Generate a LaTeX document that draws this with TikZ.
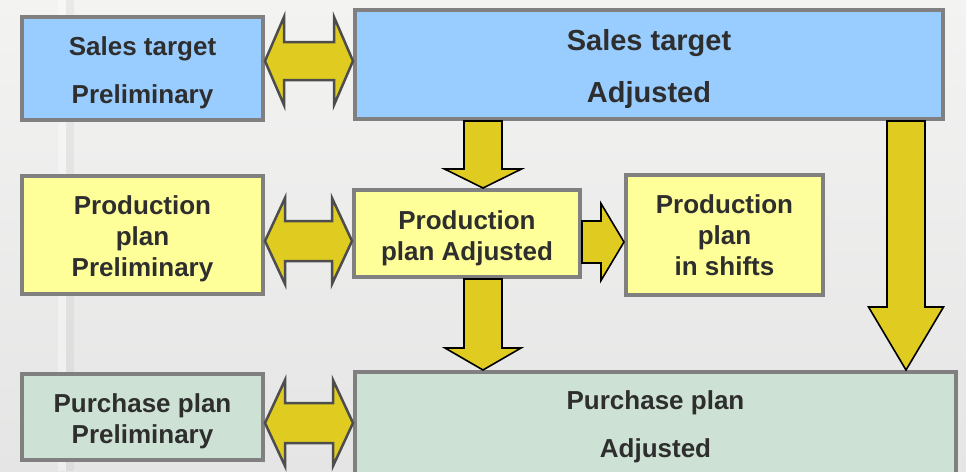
\documentclass[tikz,border=0pt]{standalone}
\usepackage{fontspec}
\setmainfont{Liberation Sans}
\usetikzlibrary{calc}
\definecolor{bgtop}{HTML}{F3F3F2}
\definecolor{bgbot}{HTML}{E5E5E5}
\definecolor{boxblue}{HTML}{99CCFF}
\definecolor{boxyel}{HTML}{FFFF99}
\definecolor{boxgrn}{HTML}{CDE2D4}
\definecolor{boxline}{HTML}{808080}
\definecolor{arrfill}{HTML}{E0CB20}
\definecolor{dblline}{HTML}{4D4D4D}
\definecolor{txt}{HTML}{2E2E2E}
\tikzset{
 box/.style={draw=boxline, line width=4pt, inner sep=0pt},
 lbl/.style={inner sep=0pt, align=center, text=txt, font=\fontsize{26}{31}\selectfont\bfseries},
 dblarr/.style={fill=arrfill, draw=dblline, line width=2.5pt, line join=miter},
 sarr/.style={fill=arrfill, draw=black, line width=1.6pt, line join=miter},
}
% horizontal double block arrow: #1 left tip, #2 right tip, #3 shaft half, #4 head half, #5 head length
\newcommand\blockdbl[5]{%
 \path[dblarr] let \p1=#1, \p2=#2 in
  (\x1,\y1) -- (\x1+#5,\y1+#4) -- (\x1+#5,\y1+#3) -- (\x2-#5,\y1+#3) -- (\x2-#5,\y1+#4)
  -- (\x2,\y1) -- (\x2-#5,\y1-#4) -- (\x2-#5,\y1-#3) -- (\x1+#5,\y1-#3) -- (\x1+#5,\y1-#4) -- cycle;}
% downward block arrow: #1 start, #2 tip
\newcommand\blockdown[5]{%
 \path[sarr] let \p1=#1, \p2=#2 in
  (\x2-#3,\y1) -- (\x2+#3,\y1) -- (\x2+#3,\y2+#5) -- (\x2+#4,\y2+#5) -- (\x2,\y2)
  -- (\x2-#4,\y2+#5) -- (\x2-#3,\y2+#5) -- cycle;}
% rightward block arrow: #1 start, #2 tip
\newcommand\blockright[5]{%
 \path[sarr] let \p1=#1, \p2=#2 in
  (\x1,\y2+#3) -- (\x2-#5,\y2+#3) -- (\x2-#5,\y2+#4) -- (\x2,\y2) -- (\x2-#5,\y2-#4)
  -- (\x2-#5,\y2-#3) -- (\x1,\y2-#3) -- cycle;}
\begin{document}
\begin{tikzpicture}[x=1pt,y=-1pt]
\useasboundingbox (0,0) rectangle (966,471);
\clip (0,0) rectangle (966,471);
\shade[top color=bgtop, bottom color=bgbot] (0,0) rectangle (966,471);
\fill[white, opacity=0.35] (58,0) rectangle (66,471);
\fill[black, opacity=0.04] (66,0) rectangle (74,471);

% boxes
\node[box, fill=boxblue, minimum width=241pt, minimum height=103pt] (sp) at (142.5,68.5) {};
\node[box, fill=boxblue, minimum width=588pt, minimum height=109pt] (sa) at (649,64.5) {};
\node[box, fill=boxyel, minimum width=241pt, minimum height=118pt] (pp) at (142.5,235) {};
\node[box, fill=boxyel, minimum width=226pt, minimum height=87pt] (pa) at (467,233.5) {};
\node[box, fill=boxyel, minimum width=197pt, minimum height=120pt] (ps) at (724.5,235) {};
\node[box, fill=boxgrn, minimum width=241pt, minimum height=86pt] (pu) at (142.5,417) {};
\node[box, fill=boxgrn, minimum width=601pt, minimum height=106pt] (pua) at (655.5,425) {};

% texts
\node[lbl] (spt) at ($(sp.center)+(0,4)$) {Sales target\\[17pt]Preliminary};
\node[lbl, font=\fontsize{29}{35}\selectfont\bfseries] (sat) at ($(sa.center)+(0,5)$)
  {Sales target\\[17pt]Adjusted};
\node[lbl] (ppt) at ($(pp.center)+(0,4)$) {Production\\plan\\Preliminary};
\node[lbl] (pat) at ($(pa.center)+(0,4.5)$) {Production\\plan Adjusted};
\node[lbl] (pst) at ($(ps.center)+(0,0.5)$) {Production\\plan\\in shifts};
\node[lbl] (put) at ($(pu.center)+(0,4.5)$) {Purchase plan\\Preliminary};
\node[lbl] (puat) at ($(pua.center)+(0,2)$) {Purchase plan\\[17pt]Adjusted};

% helper coordinates
\coordinate (ya) at (0,61);
\coordinate (yb) at (0,241);
\coordinate (yc) at (0,423);
\coordinate (yd) at (0,242);
\coordinate (xa) at (483,0);
\coordinate (xc) at (906,0);

% double arrows
\blockdbl{(sp.east |- ya)}{(sa.west |- ya)}{19pt}{44pt}{19pt}
\blockdbl{(pp.east |- yb)}{(pa.west |- yb)}{20pt}{43pt}{20pt}
\blockdbl{(pu.east |- yc)}{(pua.west |- yc)}{20pt}{43pt}{20pt}

% single arrows
\blockdown{(xa |- sa.south)}{(xa |- pa.north)}{19pt}{38.5pt}{19pt}
\blockdown{(xa |- pa.south)}{(xa |- pua.north)}{19pt}{38pt}{22pt}
\blockdown{(xc |- sa.south)}{(xc |- pua.north)}{19pt}{37.5pt}{63pt}
\blockright{(pa.east |- yd)}{(ps.west |- yd)}{21pt}{38.5pt}{23pt}
\end{tikzpicture}
\end{document}
